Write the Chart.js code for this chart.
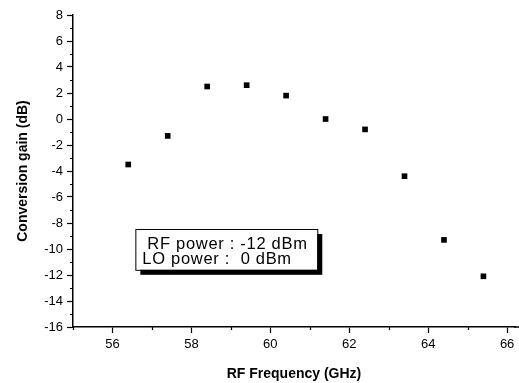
<!DOCTYPE html>
<html>
<head>
<meta charset="utf-8">
<script src="https://cdn.jsdelivr.net/npm/chart.js@4"></script>
<style>
    html, body { margin: 0; padding: 0; background: #fff; }
    #wrap { width: 519px; height: 383px; }
</style>
</head>
<body>
<div id="wrap"><canvas id="gainChart" width="519" height="383"></canvas></div>
<script>
// ---- DATA ----
const rfFreq   = [56.4, 57.4, 58.4, 59.4, 60.4, 61.4, 62.4, 63.4, 64.4, 65.4];   // GHz
const convGain = [-3.5, -1.3, 2.5, 2.6, 1.8, 0.0, -0.8, -4.4, -9.3, -12.1];      // dB

const xTickValues = [55, 56, 57, 58, 59, 60, 61, 62, 63, 64, 65, 66];
const yTickValues = [-16, -15, -14, -13, -12, -11, -10, -9, -8, -7, -6, -5, -4, -3, -2, -1,
                     0, 1, 2, 3, 4, 5, 6, 7, 8];

const noteLines = ["RF power : -12 dBm", "LO power :  0 dBm"];

const FONT = "Arial, 'Liberation Sans', sans-serif";
const isMajor = v => Math.round(v) % 2 === 0;

// short minor ticks at odd values (major ones come from the grid)
const minorTicks = {
    id: "minorTicks",
    afterDraw(chart) {
        const ctx = chart.ctx;
        const x = chart.scales.x, y = chart.scales.y;
        ctx.save();
        ctx.strokeStyle = "#000";
        ctx.lineWidth = 1.2;
        ctx.beginPath();
        x.ticks.forEach(t => {
            if (isMajor(t.value)) return;
            const px = Math.round(x.getPixelForValue(t.value)) + 0.5;
            ctx.moveTo(px, x.top);
            ctx.lineTo(px, x.top + 3);
        });
        y.ticks.forEach(t => {
            if (isMajor(t.value)) return;
            const py = Math.round(y.getPixelForValue(t.value)) + 0.5;
            ctx.moveTo(y.right, py);
            ctx.lineTo(y.right - 3, py);
        });
        ctx.stroke();
        // bottom axis line runs on to the edge of the picture
        ctx.lineWidth = 1.5;
        ctx.beginPath();
        ctx.moveTo(chart.chartArea.right - 1, x.top);
        ctx.lineTo(chart.width, x.top);
        ctx.stroke();
        ctx.restore();
    }
};

// boxed note with drop shadow
const noteBox = {
    id: "noteBox",
    afterDraw(chart) {
        const ctx = chart.ctx;
        const x = chart.scales.x, y = chart.scales.y;
        const left = x.getPixelForValue(56.58);
        const right = x.getPixelForValue(61.19);
        const top = y.getPixelForValue(-8.46);
        const bottom = y.getPixelForValue(-11.6);
        ctx.save();
        ctx.fillStyle = "#000";
        ctx.fillRect(left + 5, top + 5, right - left, bottom - top);
        ctx.fillStyle = "#fff";
        ctx.fillRect(left, top, right - left, bottom - top);
        ctx.strokeStyle = "#000";
        ctx.lineWidth = 1;
        ctx.strokeRect(left + 0.5, top + 0.5, right - left, bottom - top);
        ctx.fillStyle = "#000";
        ctx.font = "16.5px " + FONT;
        ctx.letterSpacing = "0.7px";
        ctx.textBaseline = "alphabetic";
        ctx.fillText(noteLines[0], left + 12, top + 20);
        ctx.fillText(noteLines[1], left + 7, top + 35);
        ctx.restore();
    }
};

const ctx = document.getElementById("gainChart").getContext("2d");

new Chart(ctx, {
    type: "scatter",
    data: {
        datasets: [{
            data: rfFreq.map((f, i) => ({ x: f, y: convGain[i] })),
            pointStyle: "rect",
            pointRadius: 4,
            borderWidth: 0,
            backgroundColor: "#000",
            showLine: false
        }]
    },
    options: {
        responsive: false,
        animation: false,
        layout: { padding: { top: 15, right: 0, left: 0, bottom: 0 } },
        plugins: {
            legend: { display: false },
            tooltip: { enabled: false }
        },
        scales: {
            x: {
                type: "linear",
                min: 55,
                max: 66.2,
                afterBuildTicks: s => { s.ticks = xTickValues.map(v => ({ value: v })); },
                afterFit: s => { s.height = 56; },
                border: { display: true, color: "#000", width: 1.5 },
                grid: {
                    drawOnChartArea: false,
                    tickLength: 6,
                    tickWidth: 1.2,
                    tickColor: c => (c.tick && isMajor(c.tick.value)) ? "#000" : "rgba(0,0,0,0)"
                },
                ticks: {
                    color: "#000",
                    padding: 4,
                    maxRotation: 0,
                    autoSkip: false,
                    font: { family: FONT, size: 13 },
                    callback: v => isMajor(v) ? String(v) : ""
                },
                title: {
                    display: true,
                    text: "RF Frequency (GHz)",
                    color: "#000",
                    font: { family: FONT, size: 14, weight: "bold" },
                    padding: { top: 3, bottom: 0 }
                }
            },
            y: {
                type: "linear",
                min: -16,
                max: 8,
                afterBuildTicks: s => { s.ticks = yTickValues.map(v => ({ value: v })); },
                afterFit: s => { s.width = 73; },
                border: { display: true, color: "#000", width: 1.5 },
                grid: {
                    drawOnChartArea: false,
                    tickLength: 6,
                    tickWidth: 1.2,
                    tickColor: c => (c.tick && isMajor(c.tick.value)) ? "#000" : "rgba(0,0,0,0)"
                },
                ticks: {
                    color: "#000",
                    padding: 4,
                    autoSkip: false,
                    font: { family: FONT, size: 13 },
                    callback: v => isMajor(v) ? String(v) : ""
                },
                title: {
                    display: true,
                    text: "Conversion gain (dB)",
                    color: "#000",
                    font: { family: FONT, size: 14, weight: "bold" },
                    padding: { top: 15, bottom: 0 }
                }
            }
        }
    },
    plugins: [minorTicks, noteBox]
});
</script>
</body>
</html>
